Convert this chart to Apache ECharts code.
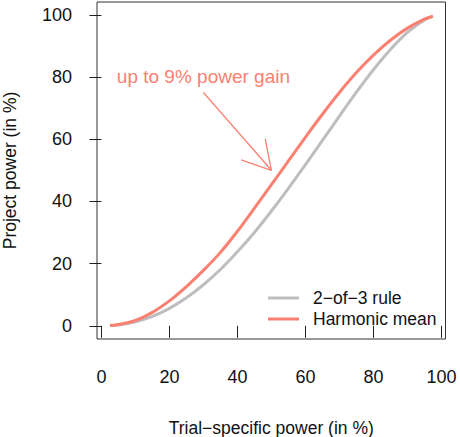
<!DOCTYPE html>
<html>
<head>
<meta charset="utf-8">
<script src="https://cdn.jsdelivr.net/npm/echarts@6/dist/echarts.min.js"></script>
<style>
html,body{margin:0;padding:0;background:#fff;}
#chart{width:460px;height:437px;}
</style>
</head>
<body>
<div id="chart"></div>
<script>
// ---- data ----
const trialPower = [2.5, 5, 10, 15, 20, 25, 30, 35, 40, 45, 50, 55, 60, 65, 70, 75, 80, 85, 90, 95, 97.5];
const rule2of3 = [0.06, 0.28, 1.26, 3.0, 5.6, 9.0, 13.2, 18.1, 23.8, 30.0, 36.9, 44.2, 51.8, 59.6, 67.4, 75.1, 82.3, 88.8, 94.3, 98.3, 99.5];
const harmonicMean = [0.06, 0.4, 1.7, 4.3, 8.0, 12.6, 17.8, 23.6, 30.4, 37.8, 45.4, 53.0, 60.6, 68.0, 75.0, 81.4, 87.0, 91.8, 95.7, 98.6, 99.5];
const xTicks = [0, 20, 40, 60, 80, 100];
const yTicks = [0, 20, 40, 60, 80, 100];
const seriesNames = ['2\u2212of\u22123 rule', 'Harmonic mean'];
const xTitle = 'Trial\u2212specific power (in %)';
const yTitle = 'Project power (in %)';
const annotationText = 'up to 9% power gain';
const annotationLabelAt = [30, 80];
const arrowFrom = [30, 75];
const arrowTo = [50, 50];

const FONT = 'Liberation Sans, Arial, Helvetica, sans-serif';
const SALMON = '#FA8072';
const GRAY = '#BEBEBE';

const chart = echarts.init(document.getElementById('chart'), null, {renderer: 'svg'});

function pairs(xs, ys) { return xs.map((x, i) => [x, ys[i]]); }

const option = {
  backgroundColor: '#fff',
  animation: false,
  grid: {
    left: 97, top: 2, right: 14.5, bottom: 98,
    show: true, borderColor: '#333', borderWidth: 1,
    backgroundColor: 'transparent',
    containLabel: false, outerBoundsMode: 'none'
  },
  xAxis: {
    type: 'value', min: -1.3, max: 101.2,
    axisLine: {show: false},
    splitLine: {show: false},
    axisTick: {show: true, length: 12, customValues: xTicks, lineStyle: {color: '#222', width: 1}},
    axisLabel: {customValues: xTicks, fontSize: 18, color: '#111', margin: 29, fontFamily: FONT},
    name: xTitle, nameLocation: 'middle', nameGap: 80,
    nameTextStyle: {fontSize: 17.5, lineHeight: 17, color: '#111', fontFamily: FONT}
  },
  yAxis: {
    type: 'value', min: -4.25, max: 104.1,
    axisLine: {show: false},
    splitLine: {show: false},
    axisTick: {show: true, length: 12, customValues: yTicks, lineStyle: {color: '#222', width: 1}},
    axisLabel: {customValues: yTicks, fontSize: 18, color: '#111', margin: 25, fontFamily: FONT},
    name: yTitle, nameLocation: 'middle', nameGap: 78,
    nameTextStyle: {fontSize: 17.5, color: '#111', fontFamily: FONT}
  },
  legend: {
    orient: 'vertical', left: 268, top: 289, padding: 0,
    itemWidth: 31, itemHeight: 3, itemGap: 3,
    textStyle: {fontSize: 17.5, color: '#111', fontFamily: FONT, padding: [0, 0, 0, 9], lineHeight: 17.5},
    data: [
      {name: seriesNames[0], icon: 'rect', itemStyle: {color: GRAY}},
      {name: seriesNames[1], icon: 'rect', itemStyle: {color: SALMON}}
    ]
  },
  series: [
    {
      name: seriesNames[0], type: 'line', data: pairs(trialPower, rule2of3),
      symbol: 'none', smooth: 0.35,
      lineStyle: {color: GRAY, width: 3}, itemStyle: {color: GRAY}, z: 2
    },
    {
      name: seriesNames[1], type: 'line', data: pairs(trialPower, harmonicMean),
      symbol: 'none', smooth: 0.35,
      lineStyle: {color: SALMON, width: 3}, itemStyle: {color: SALMON}, z: 3
    },
    {
      type: 'custom', silent: true, z: 4,
      data: [[arrowFrom[0], arrowFrom[1], arrowTo[0], arrowTo[1], annotationLabelAt[0], annotationLabelAt[1]]],
      encode: {x: [0, 2], y: [1, 3]},
      renderItem: function (params, api) {
        const p0 = api.coord([api.value(0), api.value(1)]);
        const p1 = api.coord([api.value(2), api.value(3)]);
        const pt = api.coord([api.value(4), api.value(5)]);
        const ang = Math.atan2(p0[1] - p1[1], p0[0] - p1[0]);
        const headLen = 32, headAng = Math.PI / 6;
        const h1 = [p1[0] + headLen * Math.cos(ang + headAng), p1[1] + headLen * Math.sin(ang + headAng)];
        const h2 = [p1[0] + headLen * Math.cos(ang - headAng), p1[1] + headLen * Math.sin(ang - headAng)];
        const ls = {stroke: SALMON, lineWidth: 1.3};
        return {
          type: 'group',
          children: [
            {type: 'line', shape: {x1: p0[0], y1: p0[1], x2: p1[0], y2: p1[1]}, style: ls},
            {type: 'line', shape: {x1: p1[0], y1: p1[1], x2: h1[0], y2: h1[1]}, style: ls},
            {type: 'line', shape: {x1: p1[0], y1: p1[1], x2: h2[0], y2: h2[1]}, style: ls},
            {type: 'text', x: pt[0], y: pt[1], style: {
              text: annotationText, fill: SALMON, fontSize: 19, fontFamily: FONT,
              align: 'center', verticalAlign: 'middle'
            }}
          ]
        };
      }
    }
  ]
};
chart.setOption(option);
</script>
</body>
</html>
